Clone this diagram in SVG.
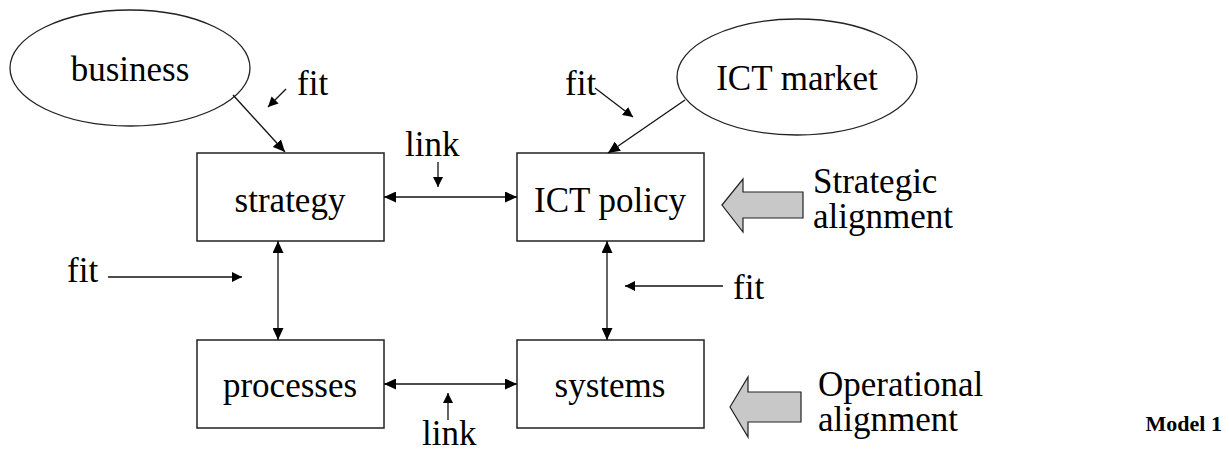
<svg xmlns="http://www.w3.org/2000/svg" width="1229" height="452" viewBox="0 0 1229 452">
<style>
  text { font-family: "Liberation Serif", "Times New Roman", serif; font-size: 35px; fill: #000; }
  .mid { text-anchor: middle; }
  .box { fill: #fff; stroke: #222; stroke-width: 1.5; }
  .con { stroke: #111; stroke-width: 1.3; fill: none; }
  .big { fill: #c8c8c8; stroke: #222; stroke-width: 1.2; }
  .bold { font-weight: bold; font-size: 22px; text-anchor: end; }
</style>
<defs>
  <marker id="ah" markerUnits="userSpaceOnUse" markerWidth="13" markerHeight="11" refX="12" refY="5.5" orient="auto-start-reverse">
    <path d="M0,0 L12,5.5 L0,11 Z" fill="#000"/>
  </marker>
  <marker id="sm" markerUnits="userSpaceOnUse" markerWidth="11" markerHeight="10" refX="10" refY="5" orient="auto">
    <path d="M0,0 L10,5 L0,10 Z" fill="#000"/>
  </marker>
</defs>

<g id="business">
  <ellipse cx="130" cy="68" rx="120" ry="58" fill="#fff" stroke="#222" stroke-width="1.3"/>
  <text x="130" y="81" class="mid">business</text>
</g>
<g id="ict-market">
  <ellipse cx="797" cy="77" rx="120" ry="58" fill="#fff" stroke="#222" stroke-width="1.3"/>
  <text x="797" y="90" class="mid">ICT market</text>
</g>
<g id="strategy">
  <rect x="197" y="153" width="187" height="88" class="box"/>
  <text x="290" y="212" class="mid">strategy</text>
</g>
<g id="ict-policy">
  <rect x="517" y="153" width="187" height="88" class="box"/>
  <text x="610" y="212" class="mid">ICT policy</text>
</g>
<g id="processes">
  <rect x="197" y="340" width="187" height="88" class="box"/>
  <text x="290" y="397" class="mid">processes</text>
</g>
<g id="systems">
  <rect x="517" y="340" width="187" height="88" class="box"/>
  <text x="610" y="397" class="mid">systems</text>
</g>

<g id="strategic-alignment">
  <polygon points="722,205 743,179 743,192 803,192 803,218 743,218 743,232" class="big"/>
  <text x="813" y="193">Strategic</text>
  <text x="813" y="228">alignment</text>
</g>
<g id="operational-alignment">
  <polygon points="730,407 748,377 748,392 801,392 801,422 748,422 748,437" class="big"/>
  <text x="818" y="396">Operational</text>
  <text x="818" y="431">alignment</text>
</g>
<g id="model-label">
  <text x="1222" y="431" class="bold">Model 1</text>
</g>

<g id="connectors">
  <line x1="233" y1="95" x2="285" y2="152" class="con" marker-end="url(#ah)"/>
  <line x1="685" y1="100" x2="608" y2="153" class="con" marker-end="url(#ah)"/>
  <line x1="384" y1="197" x2="517" y2="197" class="con" marker-start="url(#ah)" marker-end="url(#ah)"/>
  <line x1="384" y1="384" x2="517" y2="384" class="con" marker-start="url(#ah)" marker-end="url(#ah)"/>
  <line x1="278" y1="241" x2="278" y2="340" class="con" marker-start="url(#ah)" marker-end="url(#ah)"/>
  <line x1="607" y1="241" x2="607" y2="340" class="con" marker-start="url(#ah)" marker-end="url(#ah)"/>
  <line x1="286" y1="89" x2="268" y2="107" class="con" marker-end="url(#sm)"/>
  <line x1="595" y1="88" x2="633" y2="117" class="con" marker-end="url(#sm)"/>
  <line x1="438" y1="162" x2="438" y2="187" class="con" marker-end="url(#sm)"/>
  <line x1="448" y1="420" x2="448" y2="393" class="con" marker-end="url(#sm)"/>
  <line x1="108" y1="277" x2="242" y2="277" class="con" marker-end="url(#sm)"/>
  <line x1="723" y1="286" x2="625" y2="286" class="con" marker-end="url(#sm)"/>
</g>

<g id="labels">
  <text x="297" y="95">fit</text>
  <text x="565" y="95">fit</text>
  <text x="405" y="156">link</text>
  <text x="67" y="282">fit</text>
  <text x="733" y="299">fit</text>
  <text x="422" y="445">link</text>
</g>
</svg>
